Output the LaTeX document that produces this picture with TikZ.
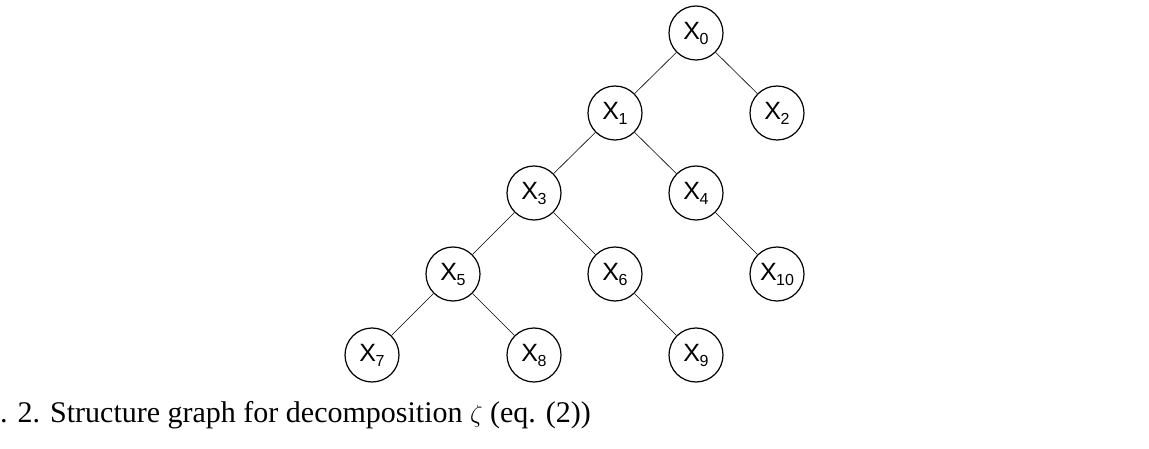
\documentclass[tikz,border=0pt]{standalone}
\usepackage{fontspec}
\setmainfont{Liberation Serif}
\newfontfamily\lblfont{Liberation Sans}
\newcommand{\xl}[1]{{\lblfont\fontsize{25}{25}\selectfont X\kern-0.5pt\raisebox{-5pt}{\fontsize{16}{16}\selectfont #1}}}
\begin{document}
\begin{tikzpicture}[x=1pt,y=-1pt,
  vert/.style={circle,draw,line width=1.2pt,minimum size=54pt,inner sep=0pt},
  edge/.style={line width=0.6pt}]
\useasboundingbox (0,0) rectangle (1149,449);
\node[vert] (x0) at (696,33) {\xl{0}};
\node[vert] (x1) at (615,113) {\xl{1}};
\node[vert] (x2) at (777,113) {\xl{2}};
\node[vert] (x3) at (534,193) {\xl{3}};
\node[vert] (x4) at (696,193) {\xl{4}};
\node[vert] (x5) at (453,274) {\xl{5}};
\node[vert] (x6) at (615,274) {\xl{6}};
\node[vert] (x10) at (777,274) {\xl{10}};
\node[vert] (x7) at (372,355) {\xl{7}};
\node[vert] (x8) at (534,355) {\xl{8}};
\node[vert] (x9) at (696,355) {\xl{9}};
\draw[edge] (x0) -- (x1);
\draw[edge] (x0) -- (x2);
\draw[edge] (x1) -- (x3);
\draw[edge] (x1) -- (x4);
\draw[edge] (x3) -- (x5);
\draw[edge] (x3) -- (x6);
\draw[edge] (x4) -- (x10);
\draw[edge] (x5) -- (x7);
\draw[edge] (x5) -- (x8);
\draw[edge] (x6) -- (x9);
\node[anchor=base west,inner sep=0pt,font=\fontsize{30}{30}\selectfont] (cap) at (0,422) {. 2. Structure graph for decomposition $\zeta$ (eq. (2))};
\end{tikzpicture}
\end{document}
